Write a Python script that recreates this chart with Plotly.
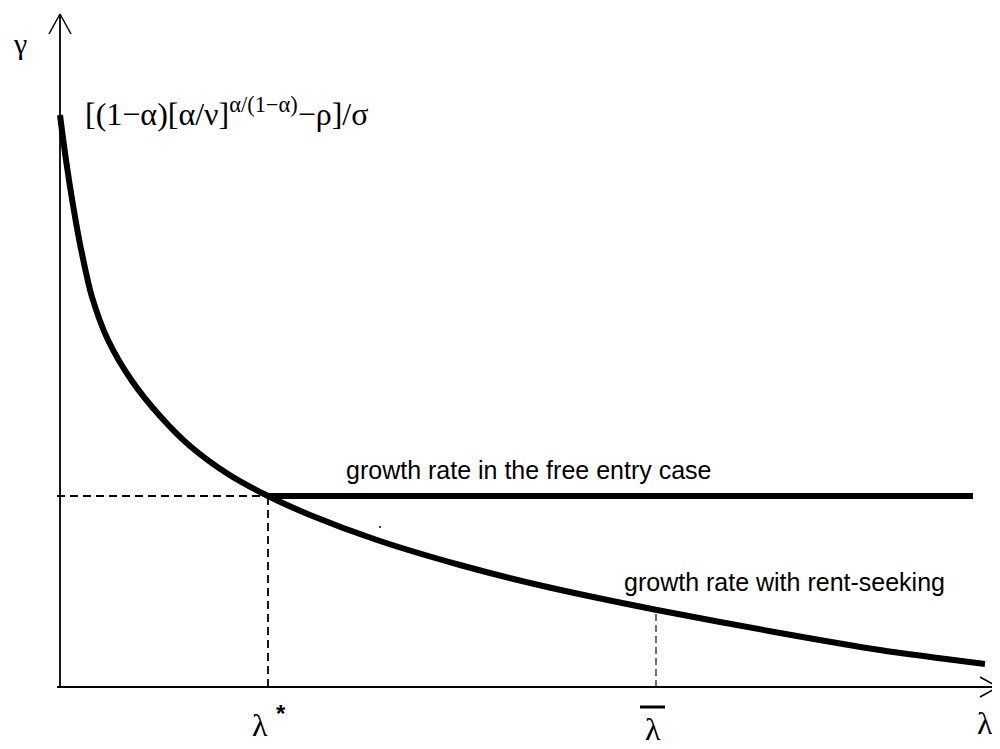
import plotly.graph_objects as go

# Data in chart units (λ to the right, γ upward; origin at the axes corner)
lam_curve = [0, 6, 13, 21, 32, 48, 72, 100, 130, 168, 208, 250, 317, 400, 483, 597, 720, 820, 925]
gam_curve = [572, 527, 482, 438, 390, 347, 306, 271, 241, 213, 191, 172, 147, 122, 101, 77, 54, 37, 23]

lam_star = 208
gam_star = 191
lam_free_end = 913
lam_bar = 596
gam_bar = 77

x_axis_end = 938
y_axis_end = 673

dot_point = [320, 160]

fig = go.Figure()

black = "black"

# axes
fig.add_trace(go.Scatter(x=[-3, x_axis_end], y=[0, 0], mode="lines",
                         line=dict(color=black, width=1.8), hoverinfo="skip"))
fig.add_trace(go.Scatter(x=[0, 0], y=[0, y_axis_end], mode="lines",
                         line=dict(color=black, width=1.8), hoverinfo="skip"))
# arrow heads
fig.add_trace(go.Scatter(x=[x_axis_end - 18, x_axis_end, x_axis_end - 18], y=[10, 0, -10], mode="lines",
                         line=dict(color=black, width=1.5), hoverinfo="skip"))
fig.add_trace(go.Scatter(x=[-11, 0, 11], y=[y_axis_end - 20, y_axis_end, y_axis_end - 20], mode="lines",
                         line=dict(color=black, width=1.5), hoverinfo="skip"))

# dashed guides
fig.add_trace(go.Scatter(x=[-3, lam_star], y=[gam_star, gam_star], mode="lines",
                         line=dict(color=black, width=1.8, dash="8px,5px"), hoverinfo="skip"))
fig.add_trace(go.Scatter(x=[lam_star, lam_star], y=[0, gam_star], mode="lines",
                         line=dict(color=black, width=1.8, dash="8px,5px"), hoverinfo="skip"))
fig.add_trace(go.Scatter(x=[lam_bar, lam_bar], y=[0, gam_bar], mode="lines",
                         line=dict(color=black, width=1.1, dash="7px,4px"), hoverinfo="skip"))

# free entry line
fig.add_trace(go.Scatter(x=[lam_star, lam_free_end], y=[gam_star, gam_star], mode="lines",
                         line=dict(color=black, width=6), hoverinfo="skip"))
# rent-seeking curve
fig.add_trace(go.Scatter(x=lam_curve, y=gam_curve, mode="lines",
                         line=dict(color=black, width=6, shape="spline", smoothing=0.8), hoverinfo="skip"))

# stray dot
fig.add_trace(go.Scatter(x=[dot_point[0]], y=[dot_point[1]], mode="markers",
                         marker=dict(color=black, size=2), hoverinfo="skip"))

serif = "Liberation Serif"
sans = "Liberation Sans"

ann = [
    dict(x=-40, y=644, text="γ", font=dict(family=serif, size=30)),
    dict(x=23, y=575, text="[(1−α)[α/ν]<sup>α/(1−α)</sup>−ρ]/σ", xanchor="left",
         font=dict(family=serif, size=32)),
    dict(x=284, y=217, text="growth rate in the free entry case", xanchor="left",
         font=dict(family=sans, size=25)),
    dict(x=562, y=105, text="growth rate with rent-seeking", xanchor="left",
         font=dict(family=sans, size=25)),
    dict(x=lam_star - 8, y=-38, text="λ", font=dict(family=serif, size=32)),
    dict(x=lam_star + 13, y=-26, text="<b>*</b>", font=dict(family=sans, size=24)),
    dict(x=lam_bar - 3, y=-42, text="λ", font=dict(family=serif, size=32)),
    dict(x=x_axis_end - 13, y=-36, text="λ", font=dict(family=serif, size=32)),
]
for a in ann:
    a.setdefault("xanchor", "center")
    a.update(showarrow=False, yanchor="middle", xref="x", yref="y")
    fig.add_annotation(**a)

# overline bar on λ̄
fig.add_shape(type="line", x0=lam_bar - 16, x1=lam_bar + 9, y0=-20, y1=-20,
              line=dict(color=black, width=3), xref="x", yref="y")

fig.update_layout(
    width=992, height=741,
    margin=dict(l=0, r=0, t=0, b=0),
    paper_bgcolor="white", plot_bgcolor="white",
    showlegend=False,
    font=dict(color="black"),
    xaxis=dict(range=[-52, 940], visible=False, fixedrange=True),
    yaxis=dict(range=[-62, 679], visible=False, fixedrange=True),
)

fig.write_html("out.html")
